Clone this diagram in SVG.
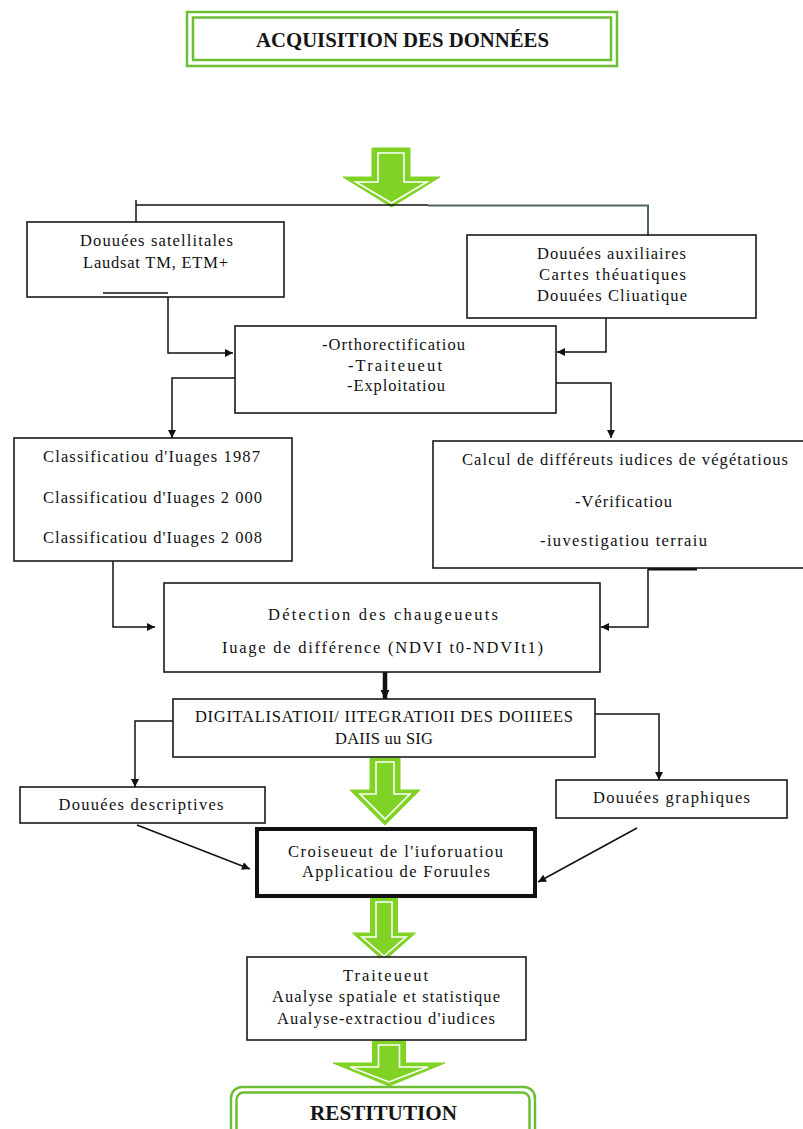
<svg xmlns="http://www.w3.org/2000/svg" width="803" height="1129" viewBox="0 0 803 1129">
<style>
.box{fill:#fff;stroke:#1a1a1a;stroke-width:1.6}
.t{font-family:"Liberation Serif",serif;font-size:16.5px;fill:#111;text-anchor:middle}
.tb{font-family:"Liberation Serif",serif;font-size:21px;font-weight:bold;fill:#151515;text-anchor:middle}
.c{fill:none;stroke:#111;stroke-width:1.5}
.g{fill:#80d225;stroke:#80d225;stroke-width:1}
.gi{fill:none;stroke:#fff;stroke-width:1.6}
.gb{fill:none;stroke:#6cbf34;stroke-width:2.5}
</style>
<defs>
<marker id="ah" viewBox="0 0 10 10" refX="10" refY="5" markerWidth="9" markerHeight="8" markerUnits="userSpaceOnUse" orient="auto">
<path d="M0,0 L10,5 L0,10 z" fill="#111"/>
</marker>
<marker id="ahb" viewBox="0 0 10 10" refX="10" refY="5" markerWidth="9" markerHeight="12" markerUnits="userSpaceOnUse" orient="auto">
<path d="M0,0 L10,5 L0,10 z" fill="#111"/>
</marker>
</defs>
<rect width="803" height="1129" fill="#fff"/>

<g id="title">
<rect class="gb" x="187" y="12" width="430" height="54"/>
<rect class="gb" x="193" y="17.5" width="418" height="42.5"/>
<text class="tb" x="402.5" y="47" textLength="293" lengthAdjust="spacingAndGlyphs">ACQUISITION DES DONNÉES</text>
</g>

<g id="green-arrows">
<path class="g" d="M372,148 H410 V177 H440 L391.5,207 L343,177 H372 Z"/>
<path class="gi" d="M378,153 H404 V182 H427 L391.5,203 L356,182 H378 Z"/>
<path class="g" d="M370,758 H400 V790 H420 L385,825 L350,790 H370 Z"/>
<path class="gi" d="M376,762 H394 V794 H410 L385,819 L360,794 H376 Z"/>
<path class="g" d="M370.5,898 H397.5 V933 H415.5 L384,961 L352.5,933 H370.5 Z"/>
<path class="gi" d="M376,902 H392 V937 H406 L384,956 L362,937 H376 Z"/>
<path class="g" d="M372.5,1041 H405.5 V1063 H445 L389,1086 L333,1063 H372.5 Z"/>
<path class="gi" d="M378.5,1045 H399.5 V1067 H428 L389,1082 L350,1067 H378.5 Z"/>
</g>

<g id="connectors">
<path class="c" d="M136,205 H428"/>
<path d="M428,205.5 H648 V235" fill="none" stroke="#4f6462" stroke-width="2"/>
<path class="c" d="M136,200 V222"/>
<path class="c" d="M103,293 H168 V353 H233" marker-end="url(#ah)"/>
<path class="c" d="M606,318 V352 H557" marker-end="url(#ah)"/>
<path class="c" d="M235,378 H172 V438" marker-end="url(#ah)"/>
<path class="c" d="M556,383 H611 V438" marker-end="url(#ah)"/>
<path class="c" d="M113,561 V627 H155" marker-end="url(#ah)"/>
<path d="M648,569 H697" stroke="#111" stroke-width="3"/>
<path class="c" d="M648,569 V627 H601" marker-end="url(#ah)"/>
<path d="M385,672 V699" fill="none" stroke="#111" stroke-width="4.5" marker-end="url(#ahb)"/>
<path class="c" d="M173,721 H135 V787" marker-end="url(#ah)"/>
<path class="c" d="M595,714 H659 V780" marker-end="url(#ah)"/>
<path class="c" d="M137,825 L250,869" marker-end="url(#ah)"/>
<path class="c" d="M637,828 L538,882" marker-end="url(#ah)"/>
</g>

<g id="n-satellite">
<rect class="box" x="27" y="222" width="257" height="75"/>
<text class="t" x="156.5" y="246" textLength="153">Douuées satellitales</text>
<text class="t" x="155.5" y="268" textLength="145">Laudsat TM, ETM+</text>
</g>
<path class="c" d="M103,293 H168"/>

<g id="n-auxiliaires">
<rect class="box" x="467" y="235" width="289" height="83"/>
<text class="t" x="611.5" y="259" textLength="149">Douuées auxiliaires</text>
<text class="t" x="612.5" y="280" textLength="147">Cartes théuatiques</text>
<text class="t" x="612" y="301" textLength="150">Douuées Cliuatique</text>
</g>

<g id="n-ortho">
<rect class="box" x="235" y="326" width="321" height="87"/>
<text class="t" x="393.5" y="350" textLength="143">-Orthorectificatiou</text>
<text class="t" x="395" y="371" textLength="94">-Traiteueut</text>
<text class="t" x="396" y="391" textLength="98">-Exploitatiou</text>
</g>

<g id="n-classification">
<rect class="box" x="14" y="438" width="278" height="123"/>
<text class="t" x="151.5" y="462" textLength="217">Classificatiou d'Iuages 1987</text>
<text class="t" x="152.5" y="503" textLength="219">Classificatiou d'Iuages 2 000</text>
<text class="t" x="152.5" y="543" textLength="219">Classificatiou d'Iuages 2 008</text>
</g>

<g id="n-calcul">
<rect class="box" x="433" y="441" width="374" height="127"/>
<text class="t" x="625" y="465" textLength="326">Calcul de différeuts iudices de  végétatious</text>
<text class="t" x="623.5" y="507" textLength="97">-Vérificatiou</text>
<text class="t" x="623.5" y="546" textLength="167">-iuvestigatiou terraiu</text>
</g>

<g id="n-detection">
<rect class="box" x="164" y="583" width="436" height="89"/>
<text class="t" x="383" y="620" textLength="230">Détection des chaugeueuts</text>
<text class="t" x="382.5" y="653" textLength="321">Iuage de différence (NDVI t0-NDVIt1)</text>
</g>

<g id="n-digitalisation">
<rect class="box" x="173" y="699" width="422" height="58"/>
<text class="t" x="384" y="722" textLength="378">DIGITALISATIOII/ IITEGRATIOII DES DOIIIEES</text>
<text class="t" x="384" y="744" textLength="98">DAIIS uu SIG</text>
</g>

<g id="n-descriptives">
<rect class="box" x="20" y="787" width="245" height="36"/>
<text class="t" x="141" y="810" textLength="165">Douuées descriptives</text>
</g>

<g id="n-graphiques">
<rect class="box" x="556" y="780" width="231" height="38"/>
<text class="t" x="671.5" y="803" textLength="157">Douuées graphiques</text>
</g>

<g id="n-croisement">
<rect x="257" y="829" width="278" height="67" fill="#fff" stroke="#111" stroke-width="4"/>
<text class="t" x="395.5" y="857" textLength="215">Croiseueut de l'iuforuatiou</text>
<text class="t" x="396" y="877" textLength="188">Applicatiou de Foruules</text>
</g>

<g id="n-traitement">
<rect class="box" x="247" y="957" width="279" height="83"/>
<text class="t" x="385.5" y="981" textLength="85">Traiteueut</text>
<text class="t" x="386" y="1002" textLength="228">Aualyse spatiale et statistique</text>
<text class="t" x="386" y="1024" textLength="218">Aualyse-extractiou d'iudices</text>
</g>

<g id="n-restitution">
<rect class="gb" x="231" y="1087" width="304" height="70" rx="11"/>
<rect class="gb" x="236.5" y="1092.5" width="293" height="60" rx="7"/>
<text class="tb" x="383.5" y="1120" textLength="147" lengthAdjust="spacingAndGlyphs">RESTITUTION</text>
</g>
</svg>
